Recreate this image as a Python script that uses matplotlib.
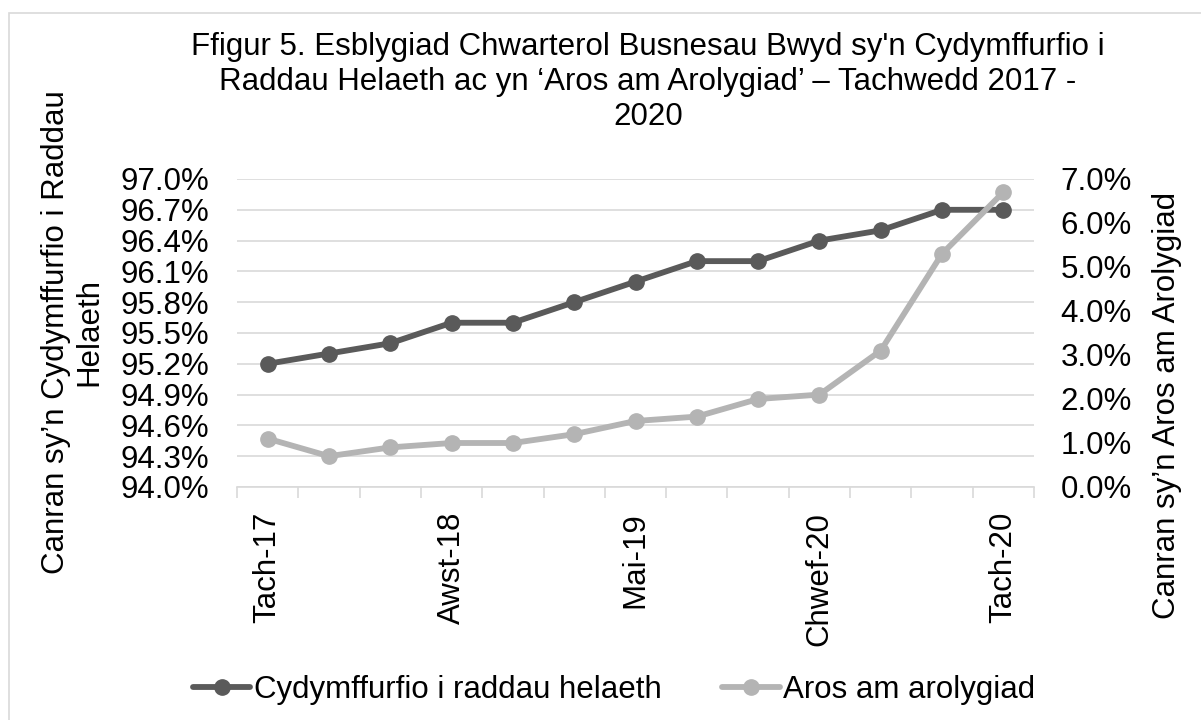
import matplotlib
matplotlib.use("Agg")
import matplotlib.pyplot as plt
from matplotlib.patches import Rectangle
from matplotlib.ticker import FuncFormatter, FixedLocator

plt.rcParams['font.family'] = ['Liberation Sans', 'DejaVu Sans']

categories = ["Tach-17", "Chwef-18", "Mai-18", "Awst-18", "Tach-18", "Chwef-19", "Mai-19",
              "Awst-19", "Tach-19", "Chwef-20", "Mai-20", "Awst-20", "Tach-20"]
tick_labels = ["Tach-17", "Awst-18", "Mai-19", "Chwef-20", "Tach-20"]
compliance = [95.2, 95.3, 95.4, 95.6, 95.6, 95.8, 96.0, 96.2, 96.2, 96.4, 96.5, 96.7, 96.7]
awaiting = [1.1, 0.7, 0.9, 1.0, 1.0, 1.2, 1.5, 1.6, 2.0, 2.1, 3.1, 5.3, 6.7]
left_ticks = [94.0, 94.3, 94.6, 94.9, 95.2, 95.5, 95.8, 96.1, 96.4, 96.7, 97.0]
right_ticks = [0, 1, 2, 3, 4, 5, 6, 7]

W, H = 1201, 720
fig = plt.figure(figsize=(W / 100, H / 100), dpi=100)
fig.patches.append(Rectangle((9 / W, -0.05), 1.2, 1 - 13 / H + 0.05, transform=fig.transFigure,
                             facecolor='none', edgecolor='#d9d9d9', linewidth=1.2, zorder=-5))

ax = fig.add_axes([237 / W, 1 - 487 / H, (1034 - 237) / W, (487 - 179) / H])
ax.set_facecolor('none')
ax2 = ax.twinx()

dark = '#5a5a5a'
light = '#b4b4b4'
x = list(range(len(categories)))
l1, = ax.plot(x, compliance, color=dark, lw=4.2, marker='o', ms=11, label='Cydymffurfio i raddau helaeth',
              solid_capstyle='round')
l2, = ax2.plot(x, awaiting, color=light, lw=4.2, marker='o', ms=11, label='Aros am arolygiad',
               solid_capstyle='round')

ax.set_xlim(-0.5, len(categories) - 0.5)
ax.set_ylim(left_ticks[0], left_ticks[-1])
ax2.set_ylim(right_ticks[0], right_ticks[-1])

fs = 22.5
ax.set_yticks(left_ticks)
ax.yaxis.set_major_formatter(FuncFormatter(lambda v, p: f"{v:.1f}%"))
ax2.set_yticks(right_ticks)
ax2.yaxis.set_major_formatter(FuncFormatter(lambda v, p: f"{v:.1f}%"))

ax.set_xticks([0, 3, 6, 9, 12])
ax.set_xticklabels(tick_labels, rotation=90, fontsize=fs)
ax.xaxis.set_minor_locator(FixedLocator([i - 0.5 for i in range(len(categories) + 1)]))
ax.tick_params(axis='x', which='major', length=0, pad=18)
ax.tick_params(axis='x', which='minor', length=8, width=1.2, color='#d9d9d9')
ax.tick_params(axis='y', length=0, pad=20, labelsize=fs)
ax2.tick_params(axis='y', length=0, pad=19, labelsize=fs)

ax.grid(axis='y', color='#d9d9d9', lw=1.2)
ax.set_axisbelow(True)
for a in (ax, ax2):
    for s in ('left', 'right', 'top', 'bottom'):
        a.spines[s].set_visible(False)
ax.spines['bottom'].set_visible(True)
ax.spines['bottom'].set_color('#d9d9d9')
ax.spines['bottom'].set_linewidth(1.2)

fig.text(648 / W, 1 - 82 / H,
         "Ffigur 5. Esblygiad Chwarterol Busnesau Bwyd sy'n Cydymffurfio i\n"
         "Raddau Helaeth ac yn \u2018Aros am Arolygiad\u2019 \u2013 Tachwedd 2017 -\n2020",
         ha='center', va='center', fontsize=fs, linespacing=1.2)

fig.text(73 / W, 1 - 332 / H, "Canran sy\u2019n Cydymffurfio i Raddau\nHelaeth", rotation=90,
         ha='center', va='center', fontsize=fs, linespacing=1.15)
fig.text(1167 / W, 1 - 405 / H, "Canran sy\u2019n Aros am Arolygiad", rotation=90,
         ha='center', va='center', fontsize=fs)

fig.legend(handles=[l1, l2], loc='center', bbox_to_anchor=(614 / W, 1 - 690 / H), ncol=2,
           frameon=False, fontsize=fs, handlelength=1.85, handletextpad=0.1, columnspacing=1.95)

fig.savefig("out.png", dpi=100)
